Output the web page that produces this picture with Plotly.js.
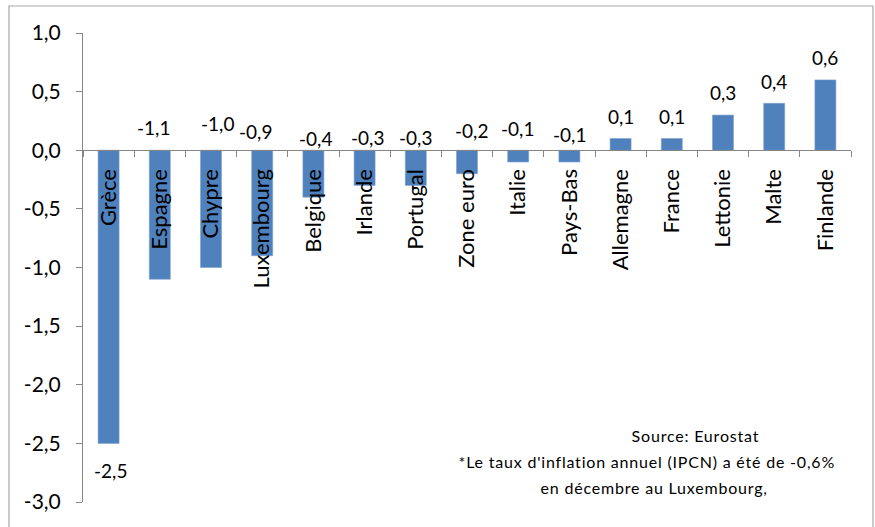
<!DOCTYPE html>
<html>
<head>
<meta charset="utf-8">
<script src="https://cdn.plot.ly/plotly-3.0.1.min.js"></script>
<style>
  html, body { margin: 0; padding: 0; background: #ffffff; }
  #chart { width: 875px; height: 527px; }
</style>
</head>
<body>
<div id="chart"></div>
<script>
// Taux d'inflation annuel (IPCH), décembre, en %
const categories = [
  "Grèce", "Espagne", "Chypre", "Luxembourg", "Belgique", "Irlande", "Portugal",
  "Zone euro", "Italie", "Pays-Bas", "Allemagne", "France", "Lettonie", "Malte", "Finlande"
];
const inflation = [-2.5, -1.1, -1.0, -0.9, -0.4, -0.3, -0.3, -0.2, -0.1, -0.1, 0.1, 0.1, 0.3, 0.4, 0.6];

const yTickValues = [1, 0.5, 0, -0.5, -1, -1.5, -2, -2.5, -3];
const yTickLabels = ["1,0", "0,5", "0,0", "-0,5", "-1,0", "-1,5", "-2,0", "-2,5", "-3,0"];

const sourceNote = "Source: Eurostat";
const footnoteLines = [
  "*Le taux d'inflation annuel (IPCN) a été de -0,6%",
  "en décembre au Luxembourg,"
];

// Plot area geometry (pixels)
const W = 875, H = 527;
const M = { l: 83, r: 24, t: 33, b: 25 };
const plotW = W - M.l - M.r;
const plotH = H - M.t - M.b;
const px = x => (x - M.l) / plotW;
const py = y => 1 - (y - M.t) / plotH;
const Y_RANGE = [-3, 1];

// Value label placement: anchored at bar end or at the zero line, with pixel nudges
const labelAnchor = ["end", "base", "base", "base", "base", "base", "base",
                     "base", "base", "base", "end", "end", "end", "end", "end"];
const labelDx = [2, -6, 6, -7, 2, 3, 0, 4, -1, 0, 0, 0, 0, 0, 0];
const labelDy = [-27, 23, 27, 19, 12, 13, 13, 20, 22, 16, 22, 22, 23, 22, 22];

const fmt = v => v.toFixed(1).replace(".", ",");
const FONT = "Lato, 'Liberation Sans', Arial, sans-serif";

const valueLabels = inflation.map((v, i) => ({
  x: categories[i],
  y: labelAnchor[i] === "end" ? v : 0,
  xref: "x", yref: "y",
  text: fmt(v),
  showarrow: false,
  xanchor: "center", yanchor: "middle",
  xshift: labelDx[i], yshift: labelDy[i],
  font: { family: FONT, size: 19, color: "#000000" }
}));

const notes = [
  { text: sourceNote, x: px(695), y: py(435) },
  { text: footnoteLines[0], x: px(647), y: py(461) },
  { text: footnoteLines[1], x: px(654), y: py(487) }
].map(n => ({
  x: n.x, y: n.y, xref: "paper", yref: "paper",
  text: n.text, showarrow: false,
  xanchor: "center", yanchor: "middle",
  font: { family: FONT, size: 16, color: "#000000" }
}));

const trace = {
  type: "bar",
  x: categories,
  y: inflation,
  marker: { color: "#4f81bd", line: { color: "#7aa0cf", width: 0.6 } },
  hoverinfo: "skip"
};

const layout = {
  width: W, height: H,
  margin: M,
  paper_bgcolor: "#ffffff",
  plot_bgcolor: "#ffffff",
  showlegend: false,
  bargap: 0.59,
  separators: ", ",
  font: { family: FONT, color: "#000000" },
  xaxis: {
    type: "category",
    showgrid: false,
    zeroline: false,
    showline: true,
    linecolor: "#868686",
    linewidth: 1,
    ticks: "outside",
    tickson: "boundaries",
    ticklen: 6,
    tickcolor: "#868686",
    tickwidth: 1,
    tickangle: -90,
    ticklabelstandoff: 9,
    tickfont: { family: FONT, size: 22, color: "#000000" },
    anchor: "free",
    // category axis sits on the zero line
    position: (0 - Y_RANGE[0]) / (Y_RANGE[1] - Y_RANGE[0]),
    fixedrange: true
  },
  yaxis: {
    range: Y_RANGE,
    showgrid: false,
    zeroline: false,
    showline: true,
    linecolor: "#868686",
    linewidth: 1,
    ticks: "outside",
    ticklen: 6,
    tickcolor: "#868686",
    tickvals: yTickValues,
    ticktext: yTickLabels,
    ticklabelstandoff: 11,
    tickfont: { family: FONT, size: 21, color: "#000000" },
    fixedrange: true
  },
  shapes: [
    // chart frame
    { type: "rect", xref: "paper", yref: "paper",
      x0: px(9), x1: px(873), y0: py(6), y1: py(540),
      line: { color: "#a6a6a6", width: 1.2 }, fillcolor: "rgba(0,0,0,0)" }
  ],
  annotations: valueLabels.concat(notes)
};

Plotly.newPlot("chart", [trace], layout, { displayModeBar: false, staticPlot: true })
  .then(gd => {
    // footnote lines are set with a little extra tracking
    const noteTexts = [sourceNote].concat(footnoteLines);
    gd.querySelectorAll(".annotation-text").forEach(t => {
      if (noteTexts.includes(t.textContent)) t.style.letterSpacing = "0.8px";
    });
  });
</script>
</body>
</html>
